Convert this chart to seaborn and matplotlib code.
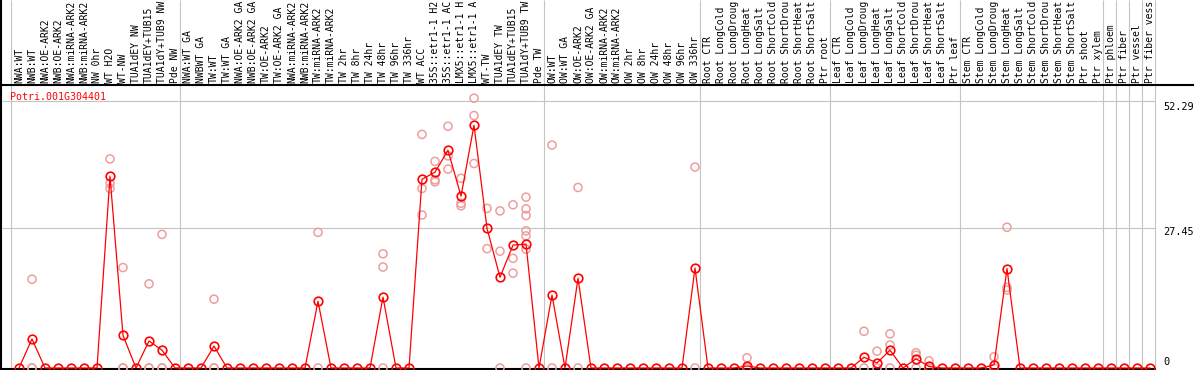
import numpy as np
import pandas as pd
import matplotlib
matplotlib.use("Agg")
import matplotlib.pyplot as plt
import seaborn as sns

# Sample names (as shown, cut at the top edge)
labels = [
    "NWA:WT", "NWB:WT", "NWA:OE-ARK2", "NWB:OE-ARK2", "NWA:miRNA-ARK2", "NWB:miRNA-ARK2",
    "NW 0hr", "WT H2O", "WT-NW", "TUA1dEY NW", "TUA1dEY+TUB15", "TUA1dY+TUB9 NW", "Pde NW",
    "NWA:WT GA", "NWBWT GA", "TW:WT", "TW:WT GA", "NWA:OE-ARK2 GA", "NWB:OE-ARK2 GA",
    "TW:OE-ARK2", "TW:OE-ARK2 GA", "NWA:miRNA-ARK2", "NWB:miRNA-ARK2", "TW:miRNA-ARK2",
    "TW:miRNA-ARK2", "TW 2hr", "TW 8hr", "TW 24hr", "TW 48hr", "TW 96hr", "TW 336hr",
    "WT ACC", "35S::etr1-1 H2", "35S::etr1-1 AC", "LMX5::etr1-1 H", "LMX5::etr1-1 A",
    "WT-TW", "TUA1dEY TW", "TUA1dEY+TUB15", "TUA1dY+TUB9 TW", "Pde TW",
    "OW:WT", "OW:WT GA", "OW:OE-ARK2", "OW:OE-ARK2 GA", "OW:miRNA-ARK2", "OW:miRNA-ARK2",
    "OW 2hr", "OW 8hr", "OW 24hr", "OW 48hr", "OW 96hr", "OW 336hr",
    "Root CTR", "Root LongCold", "Root LongDroug", "Root LongHeat", "Root LongSalt",
    "Root ShortCold", "Root ShortDrou", "Root ShortHeat", "Root ShortSalt", "Ptr root",
    "Leaf CTR", "Leaf LongCold", "Leaf LongDroug", "Leaf LongHeat", "Leaf LongSalt",
    "Leaf ShortCold", "Leaf ShortDrou", "Leaf ShortHeat", "Leaf ShortSalt", "Ptr leaf",
    "Stem CTR", "Stem LongCold", "Stem LongDroug", "Stem LongHeat", "Stem LongSalt",
    "Stem ShortCold", "Stem ShortDrou", "Stem ShortHeat", "Stem ShortSalt", "Ptr shoot",
    "Ptr xylem", "Ptr phloem", "Ptr fiber", "Ptr vessel", "Ptr fiber vess",
]

# mean expression per sample
means = [
    0, 5.7, 0, 0, 0, 0, 0, 37.6, 6.4, 0, 5.3, 3.5, 0,
    0, 0, 4.3, 0, 0, 0, 0, 0, 0, 0, 13.1, 0, 0, 0, 0, 13.9, 0, 0,
    37.0, 38.4, 42.7, 33.7, 47.6, 27.4, 17.8, 24.1, 24.3, 0,
    14.3, 0, 17.6, 0, 0, 0, 0, 0, 0, 0, 0, 19.6,
    0, 0, 0, 0.4, 0, 0, 0, 0, 0, 0,
    0, 0, 2.1, 1.0, 3.5, 0, 1.8, 0.3, 0, 0,
    0, 0, 0.6, 19.5, 0, 0, 0, 0, 0, 0, 0,
    0, 0, 0, 0,
]

# replicate values, keyed by sample position
replicates = {
    1: [17.4, 0, 0],
    7: [41.0, 36.2, 35.2],
    8: [19.7, 0, 0],
    10: [16.5, 0, 0],
    11: [26.2, 0, 0],
    15: [13.5, 0, 0],
    23: [26.6, 0],
    28: [22.4, 19.8, 0],
    31: [45.8, 35.2, 30.0],
    32: [40.5, 36.9, 36.5],
    33: [47.4, 41.6, 39.0],
    34: [37.2, 32.3, 31.8],
    35: [52.9, 49.5, 40.1],
    36: [31.3, 23.4],
    37: [30.8, 22.9, 0],
    38: [32.0, 21.5, 18.6],
    39: [33.5, 31.2, 29.9, 26.9, 25.9, 23.3, 0],
    41: [43.7, 0],
    43: [35.4, 0],
    52: [39.4, 0],
    56: [2.0, 0],
    65: [7.2, 0],
    66: [3.3, 0],
    67: [6.7, 4.5, 0],
    69: [3.0, 2.5, 0],
    70: [1.4, 0],
    75: [2.2, 0],
    76: [27.6, 15.8, 15.3],
}

group_starts = [0, 13, 41, 53, 63, 73, 84, 85, 86, 87, 88]
y_ticks = [0, 27.45, 52.29]
gene = "Potri.001G304401"

mean_df = pd.DataFrame({"pos": np.arange(len(means)), "value": means})
rep_df = pd.DataFrame(
    [(k, v) for k, vals in replicates.items() for v in vals], columns=["pos", "value"]
)

# pixel helpers (figure is drawn 1:1 in pixels)
W, H = 1194, 370
def px(p):
    return (p - 19) / 13.0
def py(p):
    return (368 - p) / 5.1

fig = plt.figure(figsize=(W / 100, H / 100), dpi=100)
ax = fig.add_axes([0, 0, 1, 1])
ax.set_xlim(px(0), px(W))
ax.set_ylim(py(H), py(0))
ax.axis("off")

grey = "#c4c4c4"
pink = "#ee9e9e"
mono = "DejaVu Sans Mono"

# grid
ax.hlines(y_ticks[1:], px(2), px(1155), color=grey, lw=0.8, zorder=1)
ax.vlines([g - 0.62 for g in group_starts], py(H), py(0), color=grey, lw=0.8, zorder=1)

# frame lines
ax.axhline(py(85), color="black", lw=1.5, zorder=2)
ax.hlines(py(369), px(0), px(1156), color="black", lw=1.5, zorder=2)
ax.axvline(px(1.5), color="black", lw=1.5, zorder=2)

# replicates
sns.scatterplot(data=rep_df, x="pos", y="value", ax=ax, marker="o", s=34,
                facecolors="none", edgecolors=pink, linewidth=1.1, zorder=3)

# mean line
sns.lineplot(data=mean_df, x="pos", y="value", ax=ax, color="red", linewidth=0.9,
             marker="o", markersize=6.2, markerfacecolor="none",
             markeredgecolor="red", markeredgewidth=1.2, errorbar=None, zorder=4)

ax.set_xlim(px(0), px(W))
ax.set_ylim(py(H), py(0))

# sample labels in header
for i, lab in enumerate(labels):
    ax.text(i, py(83), lab, rotation=90, ha="center", va="bottom",
            fontsize=7.0, family=mono, color="black")

ax.text(px(10), py(97), gene, ha="left", va="center", fontsize=7.2,
        family=mono, color="red")

# value labels on the right
offsets = [-6, 4, 6]
for v, off in zip(y_ticks, offsets):
    lab = "0" if v == 0 else f"{v:.2f}"
    ax.text(px(1163), py(368 - v * 5.1 + off), lab, ha="left", va="center",
            fontsize=7.4, family=mono, color="black")

fig.savefig("out.png", dpi=100)
plt.close(fig)
